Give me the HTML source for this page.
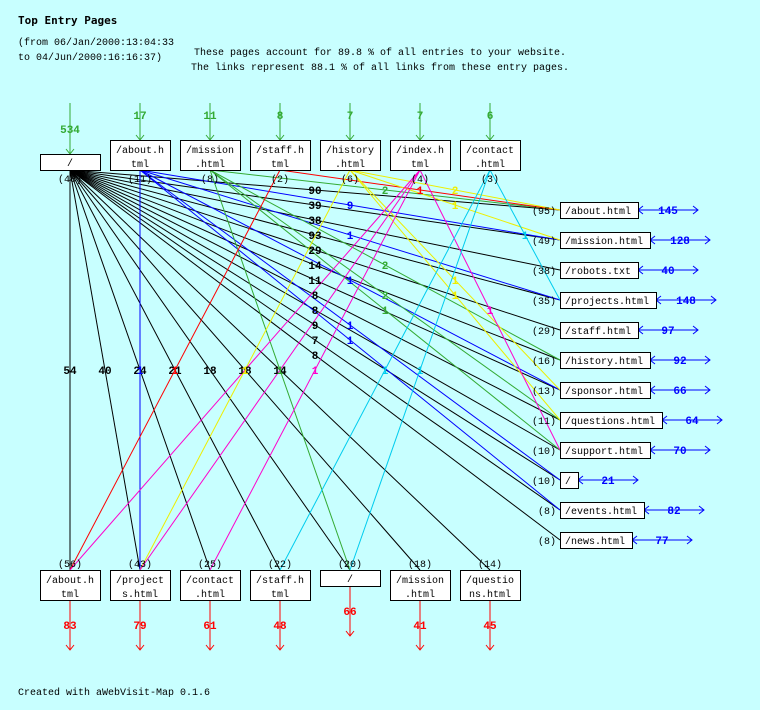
<!DOCTYPE html>
<html><head><meta charset="utf-8"><style>
html,body{margin:0;padding:0;background:#c8ffff;}
svg{display:block;font-family:"Liberation Mono","DejaVu Sans Mono",monospace;}
.t{font-size:10px;fill:#000}
.b{font-size:11px;font-weight:bold}
</style></head><body>
<svg width="760" height="710" viewBox="0 0 760 710" xmlns="http://www.w3.org/2000/svg">
<rect width="760" height="710" fill="#c8ffff"/>
<text x="18" y="24" style="font-family:'DejaVu Sans Mono',monospace;font-size:11px;font-weight:bold">Top Entry Pages</text>
<text x="18" y="45" class="t">(from 06/Jan/2000:13:04:33</text>
<text x="18" y="60" class="t">to 04/Jun/2000:16:16:37)</text>
<text x="380" y="55" class="t" text-anchor="middle">These pages account for 89.8 % of all entries to your website.</text>
<text x="380" y="70" class="t" text-anchor="middle">The links represent 88.1 % of all links from these entry pages.</text>
<text x="18" y="695" class="t">Created with aWebVisit-Map 0.1.6</text>

<g stroke-width="1" fill="none">
<!-- root to right -->
<g stroke="#000">
<line x1="70" y1="170" x2="560" y2="210"/><line x1="70" y1="170" x2="560" y2="240"/>
<line x1="70" y1="170" x2="560" y2="270"/><line x1="70" y1="170" x2="560" y2="300"/>
<line x1="70" y1="170" x2="560" y2="330"/><line x1="70" y1="170" x2="560" y2="360"/>
<line x1="70" y1="170" x2="560" y2="390"/><line x1="70" y1="170" x2="560" y2="420"/>
<line x1="70" y1="170" x2="560" y2="450"/><line x1="70" y1="170" x2="560" y2="480"/>
<line x1="70" y1="170" x2="560" y2="510"/><line x1="70" y1="170" x2="560" y2="540"/>
<line x1="70" y1="170" x2="70" y2="570"/><line x1="70" y1="170" x2="140" y2="570"/>
<line x1="70" y1="170" x2="210" y2="570"/><line x1="70" y1="170" x2="280" y2="570"/>
<line x1="70" y1="170" x2="350" y2="570"/><line x1="70" y1="170" x2="420" y2="570"/>
<line x1="70" y1="170" x2="490" y2="570"/>
</g>
<g stroke="#0000ff">
<line x1="140" y1="170" x2="560" y2="240"/><line x1="140" y1="170" x2="560" y2="300"/>
<line x1="140" y1="170" x2="560" y2="390"/><line x1="140" y1="170" x2="560" y2="480"/>
<line x1="140" y1="170" x2="560" y2="510"/><line x1="140" y1="170" x2="140" y2="570"/>
</g>
<g stroke="#33aa33">
<line x1="210" y1="170" x2="560" y2="210"/><line x1="210" y1="170" x2="560" y2="360"/>
<line x1="210" y1="170" x2="560" y2="420"/><line x1="210" y1="170" x2="560" y2="450"/>
<line x1="210" y1="170" x2="350" y2="570"/>
</g>
<g stroke="#ff0000">
<line x1="280" y1="170" x2="560" y2="210"/><line x1="280" y1="170" x2="70" y2="570"/>
</g>
<g stroke="#eeee00">
<line x1="350" y1="170" x2="560" y2="210"/><line x1="350" y1="170" x2="560" y2="240"/>
<line x1="350" y1="170" x2="560" y2="390"/><line x1="350" y1="170" x2="560" y2="420"/>
<line x1="350" y1="170" x2="140" y2="570"/>
</g>
<g stroke="#ff00cc">
<line x1="420" y1="170" x2="560" y2="450"/><line x1="420" y1="170" x2="70" y2="570"/>
<line x1="420" y1="170" x2="140" y2="570"/><line x1="420" y1="170" x2="210" y2="570"/>
</g>
<g stroke="#00ccee">
<line x1="490" y1="170" x2="560" y2="300"/><line x1="490" y1="170" x2="280" y2="570"/>
<line x1="490" y1="170" x2="350" y2="570"/>
</g>

<!-- top green arrows -->
<g stroke="#33aa33">
<line x1="70" y1="103" x2="70" y2="154"/><path d="M66,149 L70,154 L74,149"/>
<line x1="140" y1="103" x2="140" y2="140"/><path d="M136,135 L140,140 L144,135"/>
<line x1="210" y1="103" x2="210" y2="140"/><path d="M206,135 L210,140 L214,135"/>
<line x1="280" y1="103" x2="280" y2="140"/><path d="M276,135 L280,140 L284,135"/>
<line x1="350" y1="103" x2="350" y2="140"/><path d="M346,135 L350,140 L354,135"/>
<line x1="420" y1="103" x2="420" y2="140"/><path d="M416,135 L420,140 L424,135"/>
<line x1="490" y1="103" x2="490" y2="140"/><path d="M486,135 L490,140 L494,135"/>
</g>
<!-- bottom red arrows -->
<g stroke="#ff0000">
<line x1="70" y1="600" x2="70" y2="650"/><path d="M66,645 L70,650 L74,645"/>
<line x1="140" y1="600" x2="140" y2="650"/><path d="M136,645 L140,650 L144,645"/>
<line x1="210" y1="600" x2="210" y2="650"/><path d="M206,645 L210,650 L214,645"/>
<line x1="280" y1="600" x2="280" y2="650"/><path d="M276,645 L280,650 L284,645"/>
<line x1="350" y1="586" x2="350" y2="636"/><path d="M346,631 L350,636 L354,631"/>
<line x1="420" y1="600" x2="420" y2="650"/><path d="M416,645 L420,650 L424,645"/>
<line x1="490" y1="600" x2="490" y2="650"/><path d="M486,645 L490,650 L494,645"/>
</g>
<!-- right blue arrows -->
<g stroke="#0000ff">
<line x1="638" y1="210" x2="698" y2="210"/><path d="M643,206 L638,210 L643,214 M693,206 L698,210 L693,214"/>
<line x1="650" y1="240" x2="710" y2="240"/><path d="M655,236 L650,240 L655,244 M705,236 L710,240 L705,244"/>
<line x1="638" y1="270" x2="698" y2="270"/><path d="M643,266 L638,270 L643,274 M693,266 L698,270 L693,274"/>
<line x1="656" y1="300" x2="716" y2="300"/><path d="M661,296 L656,300 L661,304 M711,296 L716,300 L711,304"/>
<line x1="638" y1="330" x2="698" y2="330"/><path d="M643,326 L638,330 L643,334 M693,326 L698,330 L693,334"/>
<line x1="650" y1="360" x2="710" y2="360"/><path d="M655,356 L650,360 L655,364 M705,356 L710,360 L705,364"/>
<line x1="650" y1="390" x2="710" y2="390"/><path d="M655,386 L650,390 L655,394 M705,386 L710,390 L705,394"/>
<line x1="662" y1="420" x2="722" y2="420"/><path d="M667,416 L662,420 L667,424 M717,416 L722,420 L717,424"/>
<line x1="650" y1="450" x2="710" y2="450"/><path d="M655,446 L650,450 L655,454 M705,446 L710,450 L705,454"/>
<line x1="578" y1="480" x2="638" y2="480"/><path d="M583,476 L578,480 L583,484 M633,476 L638,480 L633,484"/>
<line x1="644" y1="510" x2="704" y2="510"/><path d="M649,506 L644,510 L649,514 M699,506 L704,510 L699,514"/>
<line x1="632" y1="540" x2="692" y2="540"/><path d="M637,536 L632,540 L637,544 M687,536 L692,540 L687,544"/>
</g>
</g>

<!-- boxes -->
<g fill="#fff" stroke="#000" stroke-width="1">
<rect x="40.5" y="154.5" width="60" height="16"/>
<rect x="110.5" y="140.5" width="60" height="30"/><rect x="180.5" y="140.5" width="60" height="30"/>
<rect x="250.5" y="140.5" width="60" height="30"/><rect x="320.5" y="140.5" width="60" height="30"/>
<rect x="390.5" y="140.5" width="60" height="30"/><rect x="460.5" y="140.5" width="60" height="30"/>
<rect x="40.5" y="570.5" width="60" height="30"/><rect x="110.5" y="570.5" width="60" height="30"/>
<rect x="180.5" y="570.5" width="60" height="30"/><rect x="250.5" y="570.5" width="60" height="30"/>
<rect x="320.5" y="570.5" width="60" height="16"/><rect x="390.5" y="570.5" width="60" height="30"/>
<rect x="460.5" y="570.5" width="60" height="30"/>
<rect x="560.5" y="202.5" width="78" height="16"/><rect x="560.5" y="232.5" width="90" height="16"/>
<rect x="560.5" y="262.5" width="78" height="16"/><rect x="560.5" y="292.5" width="96" height="16"/>
<rect x="560.5" y="322.5" width="78" height="16"/><rect x="560.5" y="352.5" width="90" height="16"/>
<rect x="560.5" y="382.5" width="90" height="16"/><rect x="560.5" y="412.5" width="102" height="16"/>
<rect x="560.5" y="442.5" width="90" height="16"/><rect x="560.5" y="472.5" width="18" height="16"/>
<rect x="560.5" y="502.5" width="84" height="16"/><rect x="560.5" y="532.5" width="72" height="16"/>
</g>
<g class="t" text-anchor="middle">
<text x="70" y="166">/</text>
<text x="140" y="153">/about.h</text><text x="140" y="167">tml</text>
<text x="210" y="153">/mission</text><text x="210" y="167">.html</text>
<text x="280" y="153">/staff.h</text><text x="280" y="167">tml</text>
<text x="350" y="153">/history</text><text x="350" y="167">.html</text>
<text x="420" y="153">/index.h</text><text x="420" y="167">tml</text>
<text x="490" y="153">/contact</text><text x="490" y="167">.html</text>
<text x="70" y="182">(48)</text><text x="140" y="182">(11)</text><text x="210" y="182">(8)</text>
<text x="280" y="182">(2)</text><text x="350" y="182">(6)</text><text x="420" y="182">(4)</text><text x="490" y="182">(3)</text>
<text x="70" y="583">/about.h</text><text x="70" y="597">tml</text>
<text x="140" y="583">/project</text><text x="140" y="597">s.html</text>
<text x="210" y="583">/contact</text><text x="210" y="597">.html</text>
<text x="280" y="583">/staff.h</text><text x="280" y="597">tml</text>
<text x="350" y="582">/</text>
<text x="420" y="583">/mission</text><text x="420" y="597">.html</text>
<text x="490" y="583">/questio</text><text x="490" y="597">ns.html</text>
<text x="70" y="567">(56)</text><text x="140" y="567">(43)</text><text x="210" y="567">(25)</text>
<text x="280" y="567">(22)</text><text x="350" y="567">(20)</text><text x="420" y="567">(18)</text><text x="490" y="567">(14)</text>
</g>
<g class="t">
<text x="565" y="214">/about.html</text><text x="565" y="244">/mission.html</text>
<text x="565" y="274">/robots.txt</text><text x="565" y="304">/projects.html</text>
<text x="565" y="334">/staff.html</text><text x="565" y="364">/history.html</text>
<text x="565" y="394">/sponsor.html</text><text x="565" y="424">/questions.html</text>
<text x="565" y="454">/support.html</text><text x="565" y="484">/</text>
<text x="565" y="514">/events.html</text><text x="565" y="544">/news.html</text>
</g>
<g class="t" text-anchor="end">
<text x="556" y="214">(95)</text><text x="556" y="244">(49)</text><text x="556" y="274">(38)</text>
<text x="556" y="304">(35)</text><text x="556" y="334">(29)</text><text x="556" y="364">(16)</text>
<text x="556" y="394">(13)</text><text x="556" y="424">(11)</text><text x="556" y="454">(10)</text>
<text x="556" y="484">(10)</text><text x="556" y="514">(8)</text><text x="556" y="544">(8)</text>
</g>

<!-- labels -->
<g class="b" text-anchor="middle" fill="#000">
<text x="315" y="194">90</text><text x="315" y="209">39</text><text x="315" y="224">38</text>
<text x="315" y="239">93</text><text x="315" y="254">29</text><text x="315" y="269">14</text>
<text x="315" y="284">11</text><text x="315" y="299">8</text><text x="315" y="314">8</text>
<text x="315" y="329">9</text><text x="315" y="344">7</text><text x="315" y="359">8</text>
<text x="70" y="374">54</text><text x="105" y="374">40</text><text x="140" y="374">24</text>
<text x="175" y="374">21</text><text x="210" y="374">18</text><text x="245" y="374">18</text>
<text x="280" y="374">14</text>
</g>
<g class="b" text-anchor="middle" fill="#0000ff">
<text x="350" y="209">9</text><text x="350" y="239">1</text><text x="350" y="284">1</text>
<text x="350" y="329">1</text><text x="350" y="344">1</text><text x="140" y="374">1</text>
<text x="668" y="214">145</text><text x="680" y="244">128</text><text x="668" y="274">40</text>
<text x="686" y="304">148</text><text x="668" y="334">97</text><text x="680" y="364">92</text>
<text x="680" y="394">66</text><text x="692" y="424">64</text><text x="680" y="454">70</text>
<text x="608" y="484">21</text><text x="674" y="514">82</text><text x="662" y="544">77</text>
</g>
<g class="b" text-anchor="middle" fill="#33aa33">
<text x="385" y="194">2</text><text x="385" y="269">2</text><text x="385" y="299">2</text>
<text x="385" y="314">1</text><text x="280" y="374">1</text>
<text x="70" y="133">534</text><text x="140" y="119">17</text><text x="210" y="119">11</text>
<text x="280" y="119">8</text><text x="350" y="119">7</text><text x="420" y="119">7</text><text x="490" y="119">6</text>
</g>
<g class="b" text-anchor="middle" fill="#ff0000">
<text x="420" y="194">1</text><text x="175" y="374">1</text>
<text x="70" y="629">83</text><text x="140" y="629">79</text><text x="210" y="629">61</text>
<text x="280" y="629">48</text><text x="350" y="615">66</text><text x="420" y="629">41</text><text x="490" y="629">45</text>
</g>
<g class="b" text-anchor="middle" fill="#eeee00">
<text x="455" y="194">2</text><text x="455" y="209">1</text><text x="455" y="284">1</text>
<text x="455" y="299">1</text><text x="245" y="374">1</text>
</g>
<g class="b" text-anchor="middle" fill="#ff00cc">
<text x="490" y="314">1</text><text x="315" y="374">1</text>
</g>
<g class="b" text-anchor="middle" fill="#00ccee">
<text x="525" y="239">1</text><text x="385" y="374">1</text><text x="420" y="374">1</text>
</g>
</svg>
</body></html>
